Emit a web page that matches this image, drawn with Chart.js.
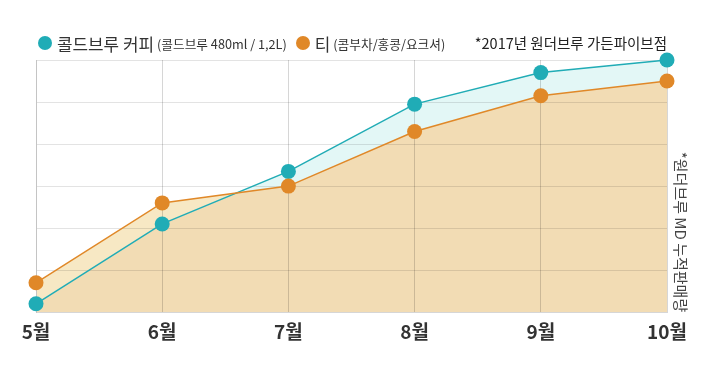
<!DOCTYPE html>
<html><head><meta charset="utf-8">
<script src="https://cdn.jsdelivr.net/npm/chart.js@4.4.1/dist/chart.umd.min.js"></script>
<style>
html,body{margin:0;padding:0;background:#fff;}
#wrap{position:relative;width:712px;height:369px;font-family:'Noto Sans CJK KR','Noto Sans',sans-serif;color:#333;}
canvas{position:absolute;left:0;top:0;}
#legend{position:absolute;left:38px;top:31px;height:24px;display:flex;align-items:center;white-space:nowrap;}
.item{display:flex;align-items:center;margin-right:9px;}
.dot{display:inline-block;width:14px;height:14px;border-radius:50%;margin-right:5px;}
.big{font-size:16.9px;}
.small{font-size:12.7px;margin-left:3px;}
#note{position:absolute;right:45px;top:31px;line-height:24px;font-size:14.5px;color:#222;white-space:nowrap;}
</style></head>
<body>
<div id="wrap">
<canvas id="c" width="712" height="369"></canvas>
<div id="legend"></div>
<div id="note"></div>
</div>
<script>
const months = ['5월', '6월', '7월', '8월', '9월', '10월'];
const coldBrew = [2, 21, 33.5, 49.5, 57, 60];
const tea = [7, 26, 30, 43, 51.5, 55];
const seriesNames = ['콜드브루 커피', '티'];
const seriesNotes = ['(콜드브루 480ml / 1,2L)', '(콤부차/홍콩/요크셔)'];
const seriesColors = ['#20acb6', '#e08828'];
const noteText = '*2017년 원더브루 가든파이브점';
const axisTitle = '*원더브루 MD 누적판매량';
const yTicks = [0, 10, 20, 30, 40, 50, 60];

const FONT = "'Noto Sans CJK KR', 'Noto Sans', sans-serif";

const legend = document.getElementById('legend');
seriesNames.forEach((n, i) => {
  const it = document.createElement('span');
  it.className = 'item';
  it.innerHTML = '<span class="dot" style="background:' + seriesColors[i] + '"></span>' +
    '<span class="big">' + n + '</span><span class="small">' + seriesNotes[i] + '</span>';
  legend.appendChild(it);
});
document.getElementById('note').textContent = noteText;

new Chart(document.getElementById('c'), {
  type: 'line',
  data: {
    labels: months,
    datasets: [
      {
        label: seriesNames[1],
        data: tea,
        borderColor: seriesColors[1],
        backgroundColor: seriesColors[1],
        pointBackgroundColor: seriesColors[1],
        pointBorderWidth: 0,
        pointRadius: 7.5,
        borderWidth: 1.5,
        tension: 0,
        clip: false,
        fill: { target: 1, above: '#f7e8c4', below: '#e3f7f6' }
      },
      {
        label: seriesNames[0],
        data: coldBrew,
        borderColor: seriesColors[0],
        backgroundColor: seriesColors[0],
        pointBackgroundColor: seriesColors[0],
        pointBorderWidth: 0,
        pointRadius: 7.5,
        borderWidth: 1.5,
        tension: 0,
        clip: false,
        fill: { target: 'origin', above: '#f2dcb4', below: '#f2dcb4' }
      }
    ]
  },
  options: {
    responsive: false,
    animation: false,
    layout: { padding: { top: 60, bottom: 18, left: 0, right: 0 } },
    plugins: {
      legend: { display: false },
      tooltip: { enabled: false },
      filler: { drawTime: 'beforeDraw' }
    },
    scales: {
      x: {
        offset: false,
        grid: { color: 'rgba(0,0,0,0.16)', drawTicks: false },
        border: { color: '#d6d6d6' },
        ticks: { padding: 8, color: '#333', font: { family: FONT, size: 19, weight: 'bold' } }
      },
      y: {
        min: yTicks[0],
        max: yTicks[yTicks.length - 1],
        afterBuildTicks: s => { s.ticks = yTicks.map(v => ({ value: v })); },
        ticks: { display: false },
        grid: { color: 'rgba(0,0,0,0.11)', drawTicks: false },
        border: { color: '#c4c4c4' },
        afterFit: s => { s.width = 36; }
      },
      y2: {
        position: 'right',
        display: true,
        grid: { display: false, drawTicks: false },
        border: { display: false },
        ticks: { display: false },
        title: {
          display: true,
          text: axisTitle,
          align: 'start',
          color: '#444',
          font: { family: FONT, size: 15 },
          padding: { top: 22, bottom: 0 }
        },
        afterFit: s => { s.width = 45; }
      }
    }
  }
});
</script>
</body></html>
